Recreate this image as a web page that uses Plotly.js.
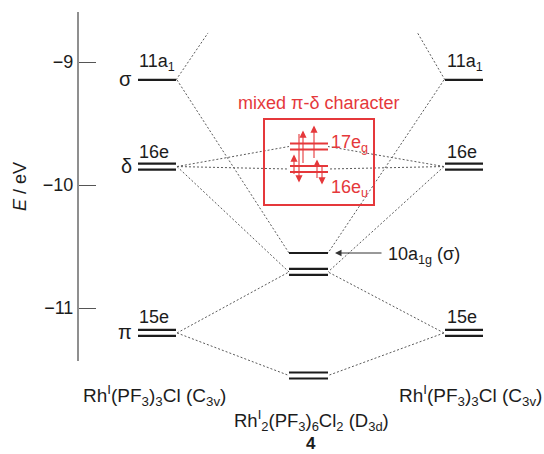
<!DOCTYPE html>
<html><head><meta charset="utf-8">
<script src="https://cdn.plot.ly/plotly-3.0.1.min.js"></script>
<style>html,body{margin:0;padding:0;background:#fff}#chart{width:544px;height:454px}</style>
</head><body><div id="chart"></div>
<script>
// ---------------- data (orbital energies, eV) ----------------
const axisTickValues = [-9, -10, -11];
const axisTickLabels = ['\u22129', '\u221210', '\u221211'];

// Rh(I)(PF3)3Cl fragment (C3v) – same on left and right
const fragmentLevelNames = ['11a1', '16e', '15e'];
const fragmentLevelLabels = ['11a<sub>1</sub>', '16e', '15e'];
const fragmentLevelCharacter = ['σ', 'δ', 'π'];
const fragmentLevelEnergy = [-9.146, -9.850, -11.203];
const fragmentLevelDegenerate = [false, true, true];

// Rh2(PF3)6Cl2 dimer (D3d)
const dimerLevelNames = ['17eg', '16eu', '10a1g', 'egLow', 'euLow'];
const dimerLevelLabels = ['17e<sub>g</sub>', '16e<sub>u</sub>', '10a<sub>1g</sub> (σ)', '', ''];
const dimerLevelEnergy = [-9.687, -9.870, -10.553, -10.707, -11.549];
const dimerLevelDegenerate = [true, true, false, true, true];
const dimerLevelMixed = [true, true, false, false, false];

// correlation lines (fragment level -> dimer level); 'sigmaStar' = off the top
const correlationFrom = ['11a1', '11a1', '16e', '16e', '16e', '15e', '15e'];
const correlationTo = ['sigmaStar', '10a1g', '17eg', '16eu', 'egLow', 'egLow', 'euLow'];

const columnLabels = ['Rh<sup>I</sup>(PF<sub>3</sub>)<sub>3</sub>Cl (C<sub>3v</sub>)',
                      'Rh<sup>I</sup><sub>2</sub>(PF<sub>3</sub>)<sub>6</sub>Cl<sub>2</sub> (D<sub>3d</sub>)',
                      'Rh<sup>I</sup>(PF<sub>3</sub>)<sub>3</sub>Cl (C<sub>3v</sub>)'];
const compoundNumber = '4';
const mixedTitle = 'mixed π-δ character';

// ---------------- layout / style ----------------
const FONT = 'Liberation Sans, Arial, Helvetica, sans-serif';
const BLACK = '#1c1c1c', RED = '#e5383b', DASH = '#5a5a5a';
const PX_PER_EV = 123;
const E_TOP = -8.496, E_BOT = -12.187;       // full page in energy
const ev = px => px / PX_PER_EV;               // pixel -> eV length
const fragLeft = [138, 176], fragRight = [445, 483], dimerCol = [289, 328];
const halfGap = ev(3);                         // half spacing of doubled lines

function addLevel(arrX, arrY, x0, x1, E, deg) {
  if (deg) {
    arrX.push(x0, x1, null, x0, x1, null);
    arrY.push(E + halfGap, E + halfGap, null, E - halfGap, E - halfGap, null);
  } else {
    arrX.push(x0, x1, null);
    arrY.push(E, E, null);
  }
}

const blackX = [], blackY = [], redX = [], redY = [];
fragmentLevelEnergy.forEach((E, i) => {
  addLevel(blackX, blackY, fragLeft[0], fragLeft[1], E, fragmentLevelDegenerate[i]);
  addLevel(blackX, blackY, fragRight[0], fragRight[1], E, fragmentLevelDegenerate[i]);
});
dimerLevelEnergy.forEach((E, i) => {
  if (dimerLevelMixed[i]) addLevel(redX, redY, dimerCol[0] + 1, dimerCol[1], E, dimerLevelDegenerate[i]);
  else addLevel(blackX, blackY, dimerCol[0], dimerCol[1], E, dimerLevelDegenerate[i]);
});

// correlation lines
const cx = [], cy = [];
correlationFrom.forEach((f, k) => {
  const Ef = fragmentLevelEnergy[fragmentLevelNames.indexOf(f)];
  const t = correlationTo[k];
  if (t === 'sigmaStar') {
    // stub heading toward the antibonding σ* level above the plotted range
    cx.push(fragLeft[1], fragLeft[1] + 32, null, fragRight[0], fragRight[0] - 28, null);
    cy.push(Ef, Ef + ev(47), null, Ef, Ef + ev(48), null);
  } else {
    const Ed = dimerLevelEnergy[dimerLevelNames.indexOf(t)];
    cx.push(fragLeft[1] + 1, dimerCol[0], null, fragRight[0] - 1, dimerCol[1], null);
    cy.push(Ef, Ed, null, Ef, Ed, null);
  }
});

const traces = [
  {x: cx, y: cy, mode: 'lines', line: {color: DASH, width: 1, dash: '2px,2px'}, hoverinfo: 'skip', connectgaps: false},
  {x: blackX, y: blackY, mode: 'lines', line: {color: BLACK, width: 2.2}, hoverinfo: 'skip', connectgaps: false},
  {x: redX, y: redY, mode: 'lines', line: {color: RED, width: 2}, hoverinfo: 'skip', connectgaps: false},
  {x: [], y: [], xaxis: 'x', yaxis: 'y2', mode: 'lines', hoverinfo: 'skip'}
];

const ann = [];
const txt = (x, y, text, o) => ann.push(Object.assign({x, y, text, xref: 'x', yref: 'y', showarrow: false,
  font: {family: FONT, size: 18, color: BLACK}, xanchor: 'left', yanchor: 'middle'}, o || {}));

fragmentLevelEnergy.forEach((E, i) => {
  const up = i === 0 ? 17 : (i === 1 ? 15 : 16);
  txt(fragLeft[0] - 1, E, fragmentLevelLabels[i], {yshift: up});
  txt(fragRight[0], E, fragmentLevelLabels[i], {yshift: up});
  txt(fragLeft[0] - 4, E, fragmentLevelCharacter[i], {xanchor: 'right', yshift: 1, font: {family: FONT, size: 20, color: BLACK}});
});
// mixed level labels
const i17 = dimerLevelNames.indexOf('17eg'), i16 = dimerLevelNames.indexOf('16eu'), i10 = dimerLevelNames.indexOf('10a1g');
txt(dimerCol[1] + 1, dimerLevelEnergy[i17], dimerLevelLabels[i17], {yshift: 3, font: {family: FONT, size: 18, color: RED}});
txt(dimerCol[1] + 1, dimerLevelEnergy[i16], dimerLevelLabels[i16], {yshift: -19, font: {family: FONT, size: 18, color: RED}});
txt(386, dimerLevelEnergy[i10], dimerLevelLabels[i10], {yshift: -2});
ann.push({x: 335, y: dimerLevelEnergy[i10], ax: 383, ay: dimerLevelEnergy[i10], axref: 'x', ayref: 'y',
  xref: 'x', yref: 'y', text: '', showarrow: true, arrowhead: 2, arrowsize: 1.3, arrowwidth: 1, arrowcolor: '#333'});

// mixed π-δ box + title
const boxTop = -9 - ev(119 - 62), boxBot = -9 - ev(205 - 62);
txt(318, -9 - ev(103 - 62), mixedTitle, {xanchor: 'center', font: {family: FONT, size: 18, color: RED}});

// electron spin arrows in the mixed levels (x position, from -> to offset in px relative to 17eg)
const spinArrows = [[294, 29, 8], [299, -14, 36], [303, 18, -16], [314, 13, -21], [317, 33, 13], [322, 18, 38]];
spinArrows.forEach(([x, a, b]) => {
  const E0 = dimerLevelEnergy[i17] - ev(a), E1 = dimerLevelEnergy[i17] - ev(b);
  ann.push({x, y: E1, ax: x, ay: E0, axref: 'x', ayref: 'y', xref: 'x', yref: 'y', text: '',
    showarrow: true, arrowhead: 2, arrowsize: 1.3, arrowwidth: 1.1, arrowcolor: RED, standoff: 0, startstandoff: 0});
});

// column labels
const yLab = -9 - ev(395 - 62), yLabC = -9 - ev(420 - 62), yNum = -9 - ev(443 - 62);
const labFont = {family: FONT, size: 19, color: BLACK};
txt(154, yLab, columnLabels[0], {xanchor: 'center', font: labFont});
txt(311, yLabC, columnLabels[1], {xanchor: 'center', font: {family: FONT, size: 18.5, color: BLACK}});
txt(470, yLab, columnLabels[2], {xanchor: 'center', font: labFont});
txt(311, yNum, '<b>' + compoundNumber + '</b>', {xanchor: 'center', font: {family: FONT, size: 17, color: BLACK}});

const layout = {
  width: 544, height: 454,
  margin: {l: 79, r: 0, t: 0, b: 0, pad: 0},
  paper_bgcolor: '#fff', plot_bgcolor: 'rgba(0,0,0,0)',
  showlegend: false,
  xaxis: {range: [79, 544], visible: false, fixedrange: true},
  yaxis: {range: [E_BOT, E_TOP], visible: false, fixedrange: true},
  yaxis2: {
    domain: [(454 - 361) / 454, (454 - 12) / 454],
    range: [-9 - ev(361 - 62), -9 - ev(12 - 62)],
    anchor: 'x', side: 'left',
    showline: true, linecolor: '#8f8f8f', linewidth: 2,
    ticks: 'inside', ticklen: 17, tickwidth: 1, tickcolor: '#555',
    tickvals: axisTickValues, ticktext: axisTickLabels,
    tickfont: {family: FONT, size: 18, color: BLACK},
    showgrid: false, zeroline: false, fixedrange: true,
    title: {text: '<i>E</i> / eV', font: {family: FONT, size: 18, color: BLACK}, standoff: 12}
  },
  shapes: [{type: 'rect', xref: 'x', yref: 'y', x0: 264, x1: 374, y0: boxBot, y1: boxTop,
    line: {color: RED, width: 2}, fillcolor: 'rgba(0,0,0,0)'}],
  annotations: ann
};

Plotly.newPlot('chart', traces, layout, {staticPlot: true, displayModeBar: false});
</script></body></html>
